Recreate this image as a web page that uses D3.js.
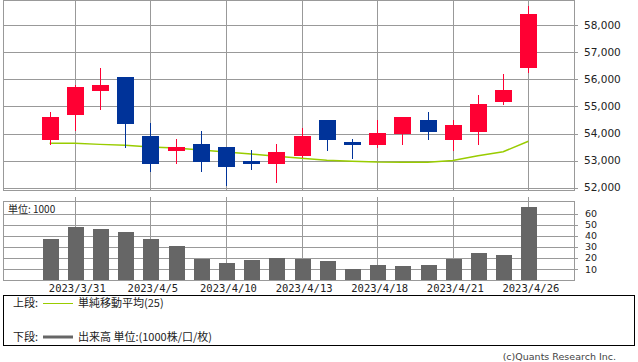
<!DOCTYPE html>
<html><head><meta charset="utf-8">
<script src="https://cdnjs.cloudflare.com/ajax/libs/d3/7.8.5/d3.min.js"></script>
<style>body{margin:0;background:#fff}svg{display:block}</style>
</head><body>
<svg id="c" width="638" height="362"></svg>
<script>
// ---- data ----
const dates = ["2023/3/30","2023/3/31","2023/4/3","2023/4/4","2023/4/5","2023/4/6","2023/4/7","2023/4/10","2023/4/11","2023/4/12","2023/4/13","2023/4/14","2023/4/17","2023/4/18","2023/4/19","2023/4/20","2023/4/21","2023/4/24","2023/4/25","2023/4/26"];
const open  = [53770,54700,55580,56090,53910,53360,53610,53500,52990,52890,53180,54500,53690,53590,53990,54500,53770,54070,55180,56420];
const high  = [54800,55790,56420,56090,54390,53800,54090,53500,53390,53610,54200,54500,53800,54500,54610,54800,54500,55420,56200,58710];
const low   = [53590,54080,54880,53480,52590,52890,52590,52060,52670,52190,53110,53370,53070,53480,53590,53770,53370,53590,55070,56240];
const close = [54610,55720,55790,54360,52890,53500,52960,52780,52890,53320,53910,53770,53590,54020,54610,54070,54320,55090,55610,58420];
const ma25  = [53640,53640,53600,53570,53500,53470,53390,53320,53245,53160,53086,53012,52975,52945,52940,52940,53005,53180,53330,53713];
const volume= [37.2,48.0,46.2,43.5,37.2,30.9,19.2,15.6,18.3,20.1,19.2,17.4,9.9,13.8,12.9,13.8,19.2,24.6,22.8,66.0];
const priceTicks = [52000,53000,54000,55000,56000,57000,58000];
const volTicks = [10,20,30,40,50,60];
const labelDates = ["2023/3/31","2023/4/5","2023/4/10","2023/4/13","2023/4/18","2023/4/21","2023/4/26"];

// ---- layout ----
const L = 3, R = 574;
const svg = d3.select("#c");
const x = d3.scaleLinear().domain([-1.85, 20.85]).range([L, R + 1]);
const yP = d3.scaleLinear().domain([51915, 58932]).range([190, 0]);
const yV = d3.scaleLinear().domain([0, 70.8]).range([280.3, 201.7]);
const UP = "#ff0033", DOWN = "#003399", GRID = "#999999";
const cx = i => Math.round(x(i)) + 0.5;
const labelIdx = labelDates.map(d => dates.indexOf(d));

// ---- top panel ----
const topG = svg.append("g").attr("shape-rendering","crispEdges");
topG.selectAll("line.hg").data(priceTicks).join("line")
  .attr("x1", L).attr("x2", R + 4)
  .attr("y1", d => Math.round(yP(d)) + 0.5).attr("y2", d => Math.round(yP(d)) + 0.5)
  .attr("stroke", GRID);
topG.selectAll("line.vg").data(labelIdx).join("line")
  .attr("x1", cx).attr("x2", cx).attr("y1", 0).attr("y2", 190)
  .attr("stroke", GRID);
topG.append("rect").attr("x", L + 0.5).attr("y", 0.5).attr("width", R - L).attr("height", 189.5)
  .attr("fill","none").attr("stroke", GRID);

// y axis labels (right)
svg.append("g").selectAll("text").data(priceTicks).join("text")
  .attr("x", 584).attr("y", d => yP(d)).attr("dy","0.35em")
  .attr("font-family","DejaVu Sans, sans-serif").attr("font-size", "10.5px").attr("fill","#222")
  .text(d => d3.format(",")(d));

// MA line
svg.append("path").datum(ma25)
  .attr("d", d3.line().x((d,i) => x(i)).y(d => yP(d)))
  .attr("fill","none").attr("stroke","#99cc00").attr("stroke-width",1.5);

// candles
const cg = svg.append("g").attr("shape-rendering","crispEdges");
const idx = d3.range(dates.length);
cg.selectAll("line.w").data(idx).join("line")
  .attr("x1", cx).attr("x2", cx)
  .attr("y1", i => yP(high[i])).attr("y2", i => yP(low[i]))
  .attr("stroke", i => close[i] >= open[i] ? UP : DOWN).attr("stroke-width", 1.2);
cg.selectAll("rect.b").data(idx).join("rect")
  .attr("x", i => Math.round(x(i)) - 8).attr("width", 17)
  .attr("y", i => yP(Math.max(open[i], close[i])))
  .attr("height", i => Math.max(2, Math.abs(yP(open[i]) - yP(close[i]))))
  .attr("fill", i => close[i] >= open[i] ? UP : DOWN);

// ---- bottom panel ----
const botG = svg.append("g").attr("shape-rendering","crispEdges");
botG.selectAll("line.hg").data(volTicks).join("line")
  .attr("x1", L).attr("x2", R + 4)
  .attr("y1", d => Math.round(yV(d)) + 0.5).attr("y2", d => Math.round(yV(d)) + 0.5)
  .attr("stroke", GRID);
botG.selectAll("line.vg").data(labelIdx).join("line")
  .attr("x1", cx).attr("x2", cx).attr("y1", 197).attr("y2", 281)
  .attr("stroke", GRID);
botG.append("rect").attr("x", L + 0.5).attr("y", 201.5).attr("width", R - L).attr("height", 79)
  .attr("fill","none").attr("stroke", GRID);
botG.selectAll("rect.v").data(idx).join("rect")
  .attr("x", i => Math.round(x(i)) - 7).attr("width", 16)
  .attr("y", i => yV(volume[i])).attr("height", i => yV(0) - yV(volume[i]))
  .attr("fill", "#666666");

svg.append("g").selectAll("text").data(volTicks).join("text")
  .attr("x", 585).attr("y", d => yV(d)).attr("dy","0.35em")
  .attr("font-family","DejaVu Sans, sans-serif").attr("font-size", "9.5px").attr("fill","#222")
  .text(d => d);

svg.append("text").attr("x", 8).attr("y", 213)
  .attr("font-family","'Noto Sans CJK JP', sans-serif").attr("font-size","10px").attr("fill","#222")
  .text("単位: 1000");

// date labels
svg.append("g").selectAll("text").data(labelIdx).join("text")
  .attr("x", i => x(i) + 2.5).attr("y", 291.5).attr("text-anchor","middle")
  .attr("font-family","'DejaVu Sans Mono', monospace").attr("font-size","10.5px").attr("fill","#222")
  .text(i => dates[i]);

// ---- legend ----
const lg = svg.append("g");
lg.append("rect").attr("x", 3.5).attr("y", 295.5).attr("width", 631).attr("height", 50)
  .attr("fill","none").attr("stroke","#000").attr("shape-rendering","crispEdges");
const jf = "'Noto Sans CJK JP', sans-serif";
lg.append("text").attr("x", 13).attr("y", 307).attr("font-family", jf).attr("font-size","11px").attr("fill","#222").text("上段:");
lg.append("line").attr("x1", 43).attr("x2", 73).attr("y1", 303.5).attr("y2", 303.5).attr("stroke","#99cc00");
lg.append("text").attr("x", 78).attr("y", 307).attr("font-family", jf).attr("font-size","11px").attr("fill","#222").text("単純移動平均(25)");
lg.append("text").attr("x", 13).attr("y", 341).attr("font-family", jf).attr("font-size","11px").attr("fill","#222").text("下段:");
lg.append("line").attr("x1", 43).attr("x2", 73).attr("y1", 337).attr("y2", 337).attr("stroke","#666").attr("stroke-width",3);
lg.append("text").attr("x", 78).attr("y", 341).attr("font-family", jf).attr("font-size","11px").attr("fill","#222").text("出来高 単位:(1000株/口/枚)");

svg.append("text").attr("x", 616).attr("y", 359.5).attr("text-anchor","end")
  .attr("font-family","'DejaVu Sans', sans-serif").attr("font-size","9.5px").attr("fill","#444")
  .text("(c)Quants Research Inc.");
</script>
</body></html>
